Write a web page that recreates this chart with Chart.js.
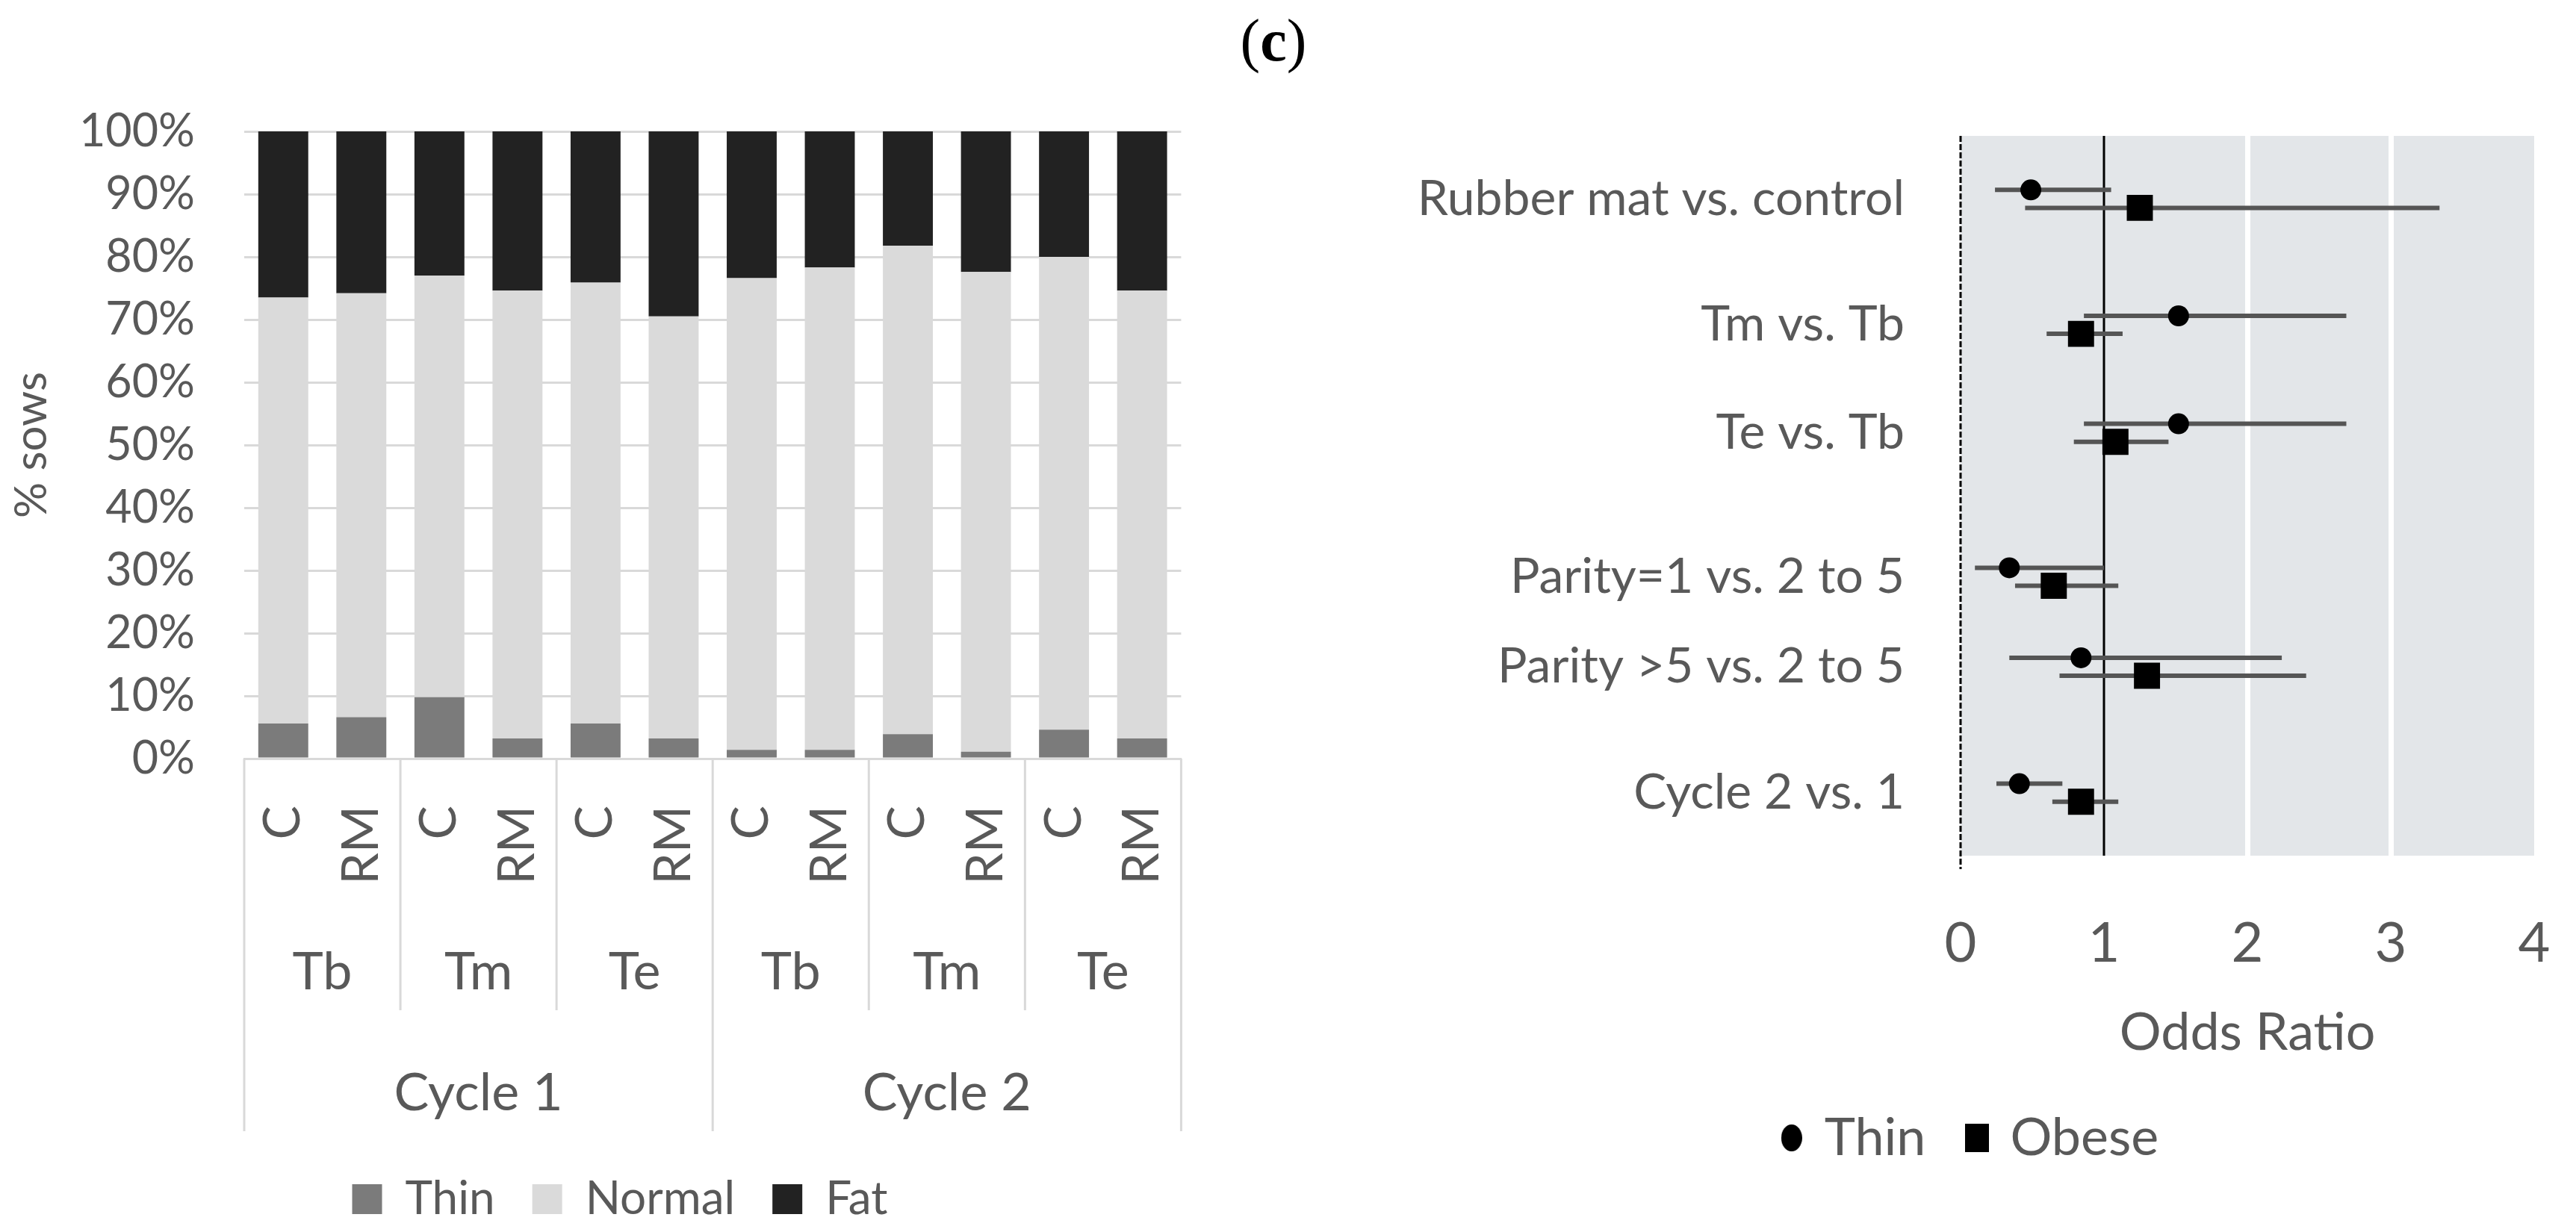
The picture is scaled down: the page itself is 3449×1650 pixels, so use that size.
<!DOCTYPE html>
<html>
<head>
<meta charset="utf-8">
<script src="https://cdn.jsdelivr.net/npm/chart.js@4.4.0/dist/chart.umd.min.js"></script>
<style>
  body { margin: 0; background: #fff; width: 3449px; height: 1650px; position: relative; overflow: hidden; }
  #title { position: absolute; left: 1605px; width: 200px; top: 12px; line-height: 84px; text-align: center;
           font-family: "Liberation Serif", serif; font-size: 80px; color: #000; }
  #left { position: absolute; left: 0; top: 0; }
  #right { position: absolute; left: 1750px; top: 0; }
</style>
</head>
<body>
<div id="title">(<b>c</b>)</div>
<canvas id="left" width="1666" height="1650"></canvas>
<canvas id="right" width="1699" height="1650"></canvas>
<script>
// left panel: body condition by treatment
const barLabels = ['C', 'RM', 'C', 'RM', 'C', 'RM', 'C', 'RM', 'C', 'RM', 'C', 'RM'];
const trialLabels = ['Tb', 'Tm', 'Te', 'Tb', 'Tm', 'Te'];
const cycleLabels = ['Cycle 1', 'Cycle 2'];
const thinPct   = [5.6, 6.6, 9.8, 3.2, 5.6, 3.2, 1.4, 1.4, 3.9, 1.1, 4.6, 3.2];
const normalPct = [67.9, 67.6, 67.2, 71.4, 70.3, 67.3, 75.2, 76.9, 77.9, 76.5, 75.4, 71.4];
const fatPct    = [26.5, 25.8, 23.0, 25.4, 24.1, 29.5, 23.4, 21.7, 18.2, 22.4, 20.0, 25.4];

// right panel: odds ratios (point, lower, upper) per comparison
const comparisons = ['Rubber mat vs. control', 'Tm vs. Tb', 'Te vs. Tb',
  'Parity=1 vs. 2 to 5', 'Parity >5 vs. 2 to 5', 'Cycle 2 vs. 1'];
const thinOR  = [0.49, 1.52, 1.52, 0.34, 0.84, 0.41];
const thinLo  = [0.24, 0.86, 0.86, 0.10, 0.34, 0.25];
const thinHi  = [1.05, 2.69, 2.69, 1.00, 2.24, 0.71];
const obeseOR = [1.25, 0.84, 1.08, 0.65, 1.30, 0.84];
const obeseLo = [0.45, 0.60, 0.79, 0.38, 0.69, 0.64];
const obeseHi = [3.34, 1.13, 1.45, 1.10, 2.41, 1.10];
const thinRow  = [9.25, 7.5, 6.0, 4.0, 2.75, 1.0];
const obeseRow = [9.0, 7.25, 5.75, 3.75, 2.5, 0.75];
const orTicks = [0, 1, 2, 3, 4];

Chart.defaults.font.family = 'Lato, "Liberation Sans", sans-serif';
Chart.defaults.color = '#595959';
Chart.defaults.animation = false;

const grey = '#595959';
const lineGrey = '#d9d9d9';

// multi-level category rows under the bars
const groupRows = {
  id: 'groupRows',
  afterDraw(chart) {
    const ctx = chart.ctx, x = chart.scales.x;
    const w = (x.right - x.left) / barLabels.length;
    const top = x.top;
    ctx.save();
    ctx.strokeStyle = lineGrey;
    ctx.lineWidth = 3;
    for (let i = 0; i <= barLabels.length; i += 2) {
      const px = x.left + i * w;
      ctx.beginPath();
      ctx.moveTo(px, top);
      ctx.lineTo(px, top + (i % 6 === 0 ? 499 : 337));
      ctx.stroke();
    }
    ctx.fillStyle = grey;
    ctx.textAlign = 'center';
    ctx.textBaseline = 'middle';
    ctx.font = '70px Lato, "Liberation Sans", sans-serif';
    trialLabels.forEach((t, i) => ctx.fillText(t, x.left + (i * 2 + 1) * w, top + 286));
    cycleLabels.forEach((c, i) => ctx.fillText(c, x.left + (i * 6 + 3) * w, top + 448));
    ctx.restore();
  }
};

new Chart(document.getElementById('left'), {
  type: 'bar',
  data: {
    labels: barLabels,
    datasets: [
      { label: 'Thin', data: thinPct, backgroundColor: '#7b7b7b' },
      { label: 'Normal', data: normalPct, backgroundColor: '#dadada' },
      { label: 'Fat', data: fatPct, backgroundColor: '#222222' }
    ]
  },
  plugins: [groupRows],
  options: {
    responsive: false,
    devicePixelRatio: 1,
    datasets: { bar: { barPercentage: 0.64, categoryPercentage: 1 } },
    layout: { padding: { top: 176, right: 6, bottom: 3, left: 0 } },
    scales: {
      x: {
        stacked: true,
        grid: { display: false },
        border: { color: lineGrey, width: 3 },
        ticks: { minRotation: 90, maxRotation: 90, autoSkip: false, padding: 55,
                 font: { size: 68 }, color: grey },
        afterFit: (s) => { s.height = 509; }
      },
      y: {
        stacked: true,
        min: 0, max: 100,
        grid: { color: lineGrey, lineWidth: 3, drawTicks: false },
        border: { display: false },
        ticks: { stepSize: 10, padding: 66, font: { size: 61 }, color: grey,
                 callback: (v) => v + '%' },
        title: { display: true, text: '% sows', font: { size: 60 }, color: grey, padding: { top: 7 } },
        afterFit: (s) => { s.width = 327; }
      }
    },
    plugins: {
      tooltip: { enabled: false },
      legend: {
        position: 'bottom',
        labels: { boxWidth: 40, boxHeight: 40, padding: 50, font: { size: 62 }, color: grey }
      }
    }
  }
});

// forest plot background, reference lines and error bars
const forest = {
  id: 'forest',
  beforeDraw(chart) {
    const { ctx, chartArea: a } = chart;
    ctx.save();
    ctx.fillStyle = '#e3e6e9';
    ctx.fillRect(a.left, a.top, a.right - a.left, a.bottom - a.top);
    ctx.restore();
  },
  beforeDatasetsDraw(chart) {
    const { ctx, chartArea: a, scales: { x, y } } = chart;
    ctx.save();
    ctx.strokeStyle = '#000';
    ctx.lineWidth = 3;
    ctx.setLineDash([8, 3]);
    let px = x.getPixelForValue(0);
    ctx.beginPath(); ctx.moveTo(px, a.top); ctx.lineTo(px, a.bottom + 18); ctx.stroke();
    ctx.setLineDash([]);
    px = x.getPixelForValue(1);
    ctx.beginPath(); ctx.moveTo(px, a.top); ctx.lineTo(px, a.bottom); ctx.stroke();

    ctx.strokeStyle = '#555555';
    ctx.lineWidth = 6;
    [[thinLo, thinHi, thinRow], [obeseLo, obeseHi, obeseRow]].forEach(([lo, hi, row]) => {
      lo.forEach((v, i) => {
        const py = y.getPixelForValue(row[i]);
        ctx.beginPath();
        ctx.moveTo(x.getPixelForValue(v), py);
        ctx.lineTo(x.getPixelForValue(hi[i]), py);
        ctx.stroke();
      });
    });
    ctx.restore();
  }
};

function legendMark(shape, w, h) {
  const c = document.createElement('canvas');
  c.width = w; c.height = h;
  const g = c.getContext('2d');
  g.fillStyle = '#000';
  if (shape === 'circle') {
    g.beginPath(); g.ellipse(w / 2, h / 2, w / 2, h / 2, 0, 0, Math.PI * 2); g.fill();
  } else {
    g.fillRect(0, 0, w, h);
  }
  return c;
}
const legendMarks = [legendMark('circle', 28, 36), legendMark('rect', 32, 38)];

new Chart(document.getElementById('right'), {
  type: 'scatter',
  data: {
    datasets: [
      { label: 'Thin', data: thinOR.map((v, i) => ({ x: v, y: thinRow[i] })),
        pointStyle: 'circle', pointRadius: 14, backgroundColor: '#000', borderWidth: 0 },
      { label: 'Obese', data: obeseOR.map((v, i) => ({ x: v, y: obeseRow[i] })),
        pointStyle: 'rect', pointRadius: 24.7, backgroundColor: '#000', borderWidth: 0 }
    ]
  },
  plugins: [forest],
  options: {
    responsive: false,
    devicePixelRatio: 1,
    layout: { padding: { top: 182, right: 56, bottom: 81, left: 137 } },
    scales: {
      x: {
        min: 0, max: 4,
        afterBuildTicks: (s) => { s.ticks = orTicks.map((v) => ({ value: v })); },
        grid: { color: (c) => (c.tick && (c.tick.value === 2 || c.tick.value === 3)) ? '#ffffff' : 'rgba(0,0,0,0)',
                lineWidth: 7, drawTicks: true, tickLength: 70, tickColor: 'rgba(0,0,0,0)' },
        border: { display: false },
        ticks: { padding: 4, font: { size: 74 }, color: grey },
        title: { display: true, text: 'Odds Ratio', font: { size: 70 }, color: grey, padding: { top: 0, bottom: 4 } },
        afterFit: (s) => { s.height = 283; }
      },
      y: {
        min: 0, max: 10,
        afterBuildTicks: (s) => { s.ticks = thinRow.map((v, i) => ({ value: (v + obeseRow[i]) / 2 })); },
        grid: { display: false, drawTicks: false },
        border: { display: false },
        ticks: { autoSkip: false, padding: 75, font: { size: 66 }, color: grey,
                 callback: (v, i) => comparisons[i] },
        afterFit: (s) => { s.width = 738; }
      }
    },
    plugins: {
      tooltip: { enabled: false },
      legend: {
        position: 'bottom',
        labels: {
          usePointStyle: true, boxWidth: 18, padding: 60, font: { size: 70 }, color: grey,
          generateLabels: (chart) => chart.data.datasets.map((d, i) => ({
            text: d.label, pointStyle: legendMarks[i], datasetIndex: i,
            fillStyle: '#000', strokeStyle: '#000', lineWidth: 0, fontColor: grey, hidden: false
          }))
        }
      }
    }
  }
});
</script>
</body>
</html>
